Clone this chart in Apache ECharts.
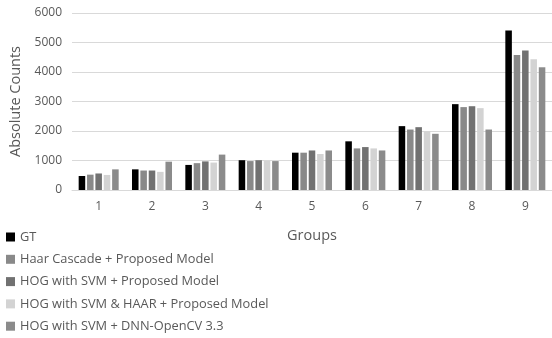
<!DOCTYPE html>
<html>
<head>
<meta charset="utf-8">
<script src="https://cdn.jsdelivr.net/npm/echarts@6/dist/echarts.min.js"></script>
<style>
  html, body { margin: 0; padding: 0; background: #fff; }
  #chart { width: 552px; height: 338px; }
</style>
</head>
<body>
<div id="chart"></div>
<script>
// Group labels along the x axis
const groups = ['1', '2', '3', '4', '5', '6', '7', '8', '9'];

// Absolute counts per group for each method
const gtCounts       = [475, 700, 850, 1010, 1265, 1650, 2165, 2910, 5410];
const haarCounts     = [520, 660, 910, 980, 1265, 1410, 2050, 2810, 4580];
const hogCounts      = [560, 660, 970, 1010, 1340, 1455, 2130, 2840, 4725];
const hogHaarCounts  = [510, 615, 930, 990, 1220, 1410, 1995, 2775, 4430];
const hogDnnCounts   = [700, 960, 1200, 980, 1340, 1340, 1905, 2050, 4160];

const seriesNames = [
  'GT',
  'Haar Cascade + Proposed Model',
  'HOG with SVM + Proposed Model',
  'HOG with SVM & HAAR + Proposed Model',
  'HOG with SVM + DNN-OpenCV 3.3'
];
const seriesData = [gtCounts, haarCounts, hogCounts, hogHaarCounts, hogDnnCounts];
const seriesColors = ['#000000', '#898989', '#717171', '#d3d3d3', '#8b8b8b'];

const textColor = '#595959';
const fontFamily = '"Open Sans", "Liberation Sans", sans-serif';

const chart = echarts.init(document.getElementById('chart'), null, { renderer: 'canvas' });

chart.setOption({
  animation: false,
  textStyle: { fontFamily: fontFamily, color: textColor },
  grid: { left: 72, right: 0, top: 13, bottom: 148, containLabel: false },
  legend: {
    orient: 'vertical',
    left: 6,
    top: 230,
    height: 110,
    padding: 0,
    itemWidth: 9,
    itemHeight: 9,
    itemGap: 8.3,
    icon: 'rect',
    data: seriesNames,
    textStyle: { color: textColor, fontSize: 12.8, fontFamily: fontFamily, lineHeight: 14 }
  },
  xAxis: {
    type: 'category',
    data: groups,
    name: 'Groups',
    nameLocation: 'middle',
    nameGap: 38,
    nameTextStyle: { color: textColor, fontSize: 14.5, fontFamily: fontFamily },
    axisLine: { show: true, lineStyle: { color: '#d9d9d9', width: 1 } },
    axisTick: { show: false },
    axisLabel: { color: textColor, fontSize: 12, margin: 11, fontFamily: fontFamily }
  },
  yAxis: {
    type: 'value',
    min: 0,
    max: 6000,
    interval: 1000,
    name: 'Absolute Counts',
    nameLocation: 'middle',
    nameGap: 49,
    nameTextStyle: { color: textColor, fontSize: 14.5, fontFamily: fontFamily },
    axisLine: { show: false },
    axisTick: { show: false },
    axisLabel: { color: textColor, fontSize: 12, margin: 10, fontFamily: fontFamily, formatter: (v) => String(v) },
    splitLine: { lineStyle: { color: '#d9d9d9', width: 1 } }
  },
  series: seriesNames.map((name, i) => ({
    name: name,
    type: 'bar',
    data: seriesData[i],
    barGap: '28%',
    barCategoryGap: '25%',
    itemStyle: { color: seriesColors[i] }
  }))
});
</script>
</body>
</html>
